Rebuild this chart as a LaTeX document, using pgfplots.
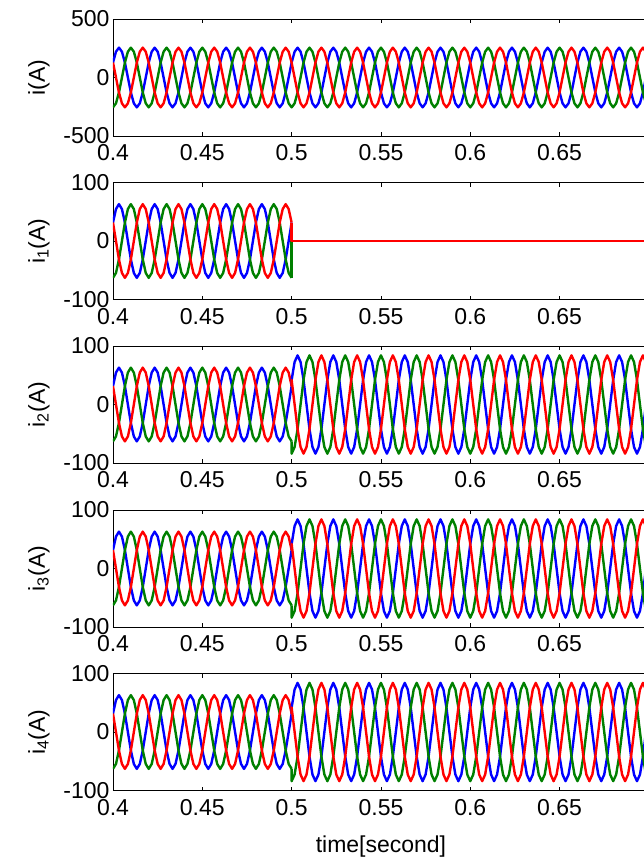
\documentclass[border=0pt]{standalone}
\usepackage{fontspec}
\setmainfont{Liberation Sans}
\usepackage{pgfplots}
\usepackage{pgfplotstable}
\pgfplotsset{compat=1.18}
\definecolor{mblue}{RGB}{0,0,255}
\definecolor{mgreen}{RGB}{0,128,0}
\definecolor{mred}{RGB}{255,0,0}

% total current i (three phases)
\pgfplotstableread{
t B R G
0.4 127.5 127.5 -255
0.401667 220.8 0 -220.8
0.403333 255 -127.5 -127.5
0.405 220.8 -220.8 0
0.406667 127.5 -255 127.5
0.408333 0 -220.8 220.8
0.41 -127.5 -127.5 255
0.411667 -220.8 0 220.8
0.413333 -255 127.5 127.5
0.415 -220.8 220.8 0
0.416667 -127.5 255 -127.5
0.418333 0 220.8 -220.8
0.42 127.5 127.5 -255
0.421667 220.8 0 -220.8
0.423333 255 -127.5 -127.5
0.425 220.8 -220.8 0
0.426667 127.5 -255 127.5
0.428333 0 -220.8 220.8
0.43 -127.5 -127.5 255
0.431667 -220.8 0 220.8
0.433333 -255 127.5 127.5
0.435 -220.8 220.8 0
0.436667 -127.5 255 -127.5
0.438333 0 220.8 -220.8
0.44 127.5 127.5 -255
0.441667 220.8 0 -220.8
0.443333 255 -127.5 -127.5
0.445 220.8 -220.8 0
0.446667 127.5 -255 127.5
0.448333 0 -220.8 220.8
0.45 -127.5 -127.5 255
0.451667 -220.8 0 220.8
0.453333 -255 127.5 127.5
0.455 -220.8 220.8 0
0.456667 -127.5 255 -127.5
0.458333 0 220.8 -220.8
0.46 127.5 127.5 -255
0.461667 220.8 0 -220.8
0.463333 255 -127.5 -127.5
0.465 220.8 -220.8 0
0.466667 127.5 -255 127.5
0.468333 0 -220.8 220.8
0.47 -127.5 -127.5 255
0.471667 -220.8 0 220.8
0.473333 -255 127.5 127.5
0.475 -220.8 220.8 0
0.476667 -127.5 255 -127.5
0.478333 0 220.8 -220.8
0.48 127.5 127.5 -255
0.481667 220.8 0 -220.8
0.483333 255 -127.5 -127.5
0.485 220.8 -220.8 0
0.486667 127.5 -255 127.5
0.488333 0 -220.8 220.8
0.49 -127.5 -127.5 255
0.491667 -220.8 0 220.8
0.493333 -255 127.5 127.5
0.495 -220.8 220.8 0
0.496667 -127.5 255 -127.5
0.498333 0 220.8 -220.8
0.5 127.5 127.5 -255
0.501667 220.8 0 -220.8
0.503333 255 -127.5 -127.5
0.505 220.8 -220.8 0
0.506667 127.5 -255 127.5
0.508333 0 -220.8 220.8
0.51 -127.5 -127.5 255
0.511667 -220.8 0 220.8
0.513333 -255 127.5 127.5
0.515 -220.8 220.8 0
0.516667 -127.5 255 -127.5
0.518333 0 220.8 -220.8
0.52 127.5 127.5 -255
0.521667 220.8 0 -220.8
0.523333 255 -127.5 -127.5
0.525 220.8 -220.8 0
0.526667 127.5 -255 127.5
0.528333 0 -220.8 220.8
0.53 -127.5 -127.5 255
0.531667 -220.8 0 220.8
0.533333 -255 127.5 127.5
0.535 -220.8 220.8 0
0.536667 -127.5 255 -127.5
0.538333 0 220.8 -220.8
0.54 127.5 127.5 -255
0.541667 220.8 0 -220.8
0.543333 255 -127.5 -127.5
0.545 220.8 -220.8 0
0.546667 127.5 -255 127.5
0.548333 0 -220.8 220.8
0.55 -127.5 -127.5 255
0.551667 -220.8 0 220.8
0.553333 -255 127.5 127.5
0.555 -220.8 220.8 0
0.556667 -127.5 255 -127.5
0.558333 0 220.8 -220.8
0.56 127.5 127.5 -255
0.561667 220.8 0 -220.8
0.563333 255 -127.5 -127.5
0.565 220.8 -220.8 0
0.566667 127.5 -255 127.5
0.568333 0 -220.8 220.8
0.57 -127.5 -127.5 255
0.571667 -220.8 0 220.8
0.573333 -255 127.5 127.5
0.575 -220.8 220.8 0
0.576667 -127.5 255 -127.5
0.578333 0 220.8 -220.8
0.58 127.5 127.5 -255
0.581667 220.8 0 -220.8
0.583333 255 -127.5 -127.5
0.585 220.8 -220.8 0
0.586667 127.5 -255 127.5
0.588333 0 -220.8 220.8
0.59 -127.5 -127.5 255
0.591667 -220.8 0 220.8
0.593333 -255 127.5 127.5
0.595 -220.8 220.8 0
0.596667 -127.5 255 -127.5
0.598333 0 220.8 -220.8
0.6 127.5 127.5 -255
0.601667 220.8 0 -220.8
0.603333 255 -127.5 -127.5
0.605 220.8 -220.8 0
0.606667 127.5 -255 127.5
0.608333 0 -220.8 220.8
0.61 -127.5 -127.5 255
0.611667 -220.8 0 220.8
0.613333 -255 127.5 127.5
0.615 -220.8 220.8 0
0.616667 -127.5 255 -127.5
0.618333 0 220.8 -220.8
0.62 127.5 127.5 -255
0.621667 220.8 0 -220.8
0.623333 255 -127.5 -127.5
0.625 220.8 -220.8 0
0.626667 127.5 -255 127.5
0.628333 0 -220.8 220.8
0.63 -127.5 -127.5 255
0.631667 -220.8 0 220.8
0.633333 -255 127.5 127.5
0.635 -220.8 220.8 0
0.636667 -127.5 255 -127.5
0.638333 0 220.8 -220.8
0.64 127.5 127.5 -255
0.641667 220.8 0 -220.8
0.643333 255 -127.5 -127.5
0.645 220.8 -220.8 0
0.646667 127.5 -255 127.5
0.648333 0 -220.8 220.8
0.65 -127.5 -127.5 255
0.651667 -220.8 0 220.8
0.653333 -255 127.5 127.5
0.655 -220.8 220.8 0
0.656667 -127.5 255 -127.5
0.658333 0 220.8 -220.8
0.66 127.5 127.5 -255
0.661667 220.8 0 -220.8
0.663333 255 -127.5 -127.5
0.665 220.8 -220.8 0
0.666667 127.5 -255 127.5
0.668333 0 -220.8 220.8
0.67 -127.5 -127.5 255
0.671667 -220.8 0 220.8
0.673333 -255 127.5 127.5
0.675 -220.8 220.8 0
0.676667 -127.5 255 -127.5
0.678333 0 220.8 -220.8
0.68 127.5 127.5 -255
0.681667 220.8 0 -220.8
0.683333 255 -127.5 -127.5
0.685 220.8 -220.8 0
0.686667 127.5 -255 127.5
0.688333 0 -220.8 220.8
0.69 -127.5 -127.5 255
0.691667 -220.8 0 220.8
0.693333 -255 127.5 127.5
0.695 -220.8 220.8 0
0.696667 -127.5 255 -127.5
0.698333 0 220.8 -220.8
}\toptab

% branch currents before t = 0.5
\pgfplotstableread{
t B R G
0.4 31.5 31.5 -63
0.401667 54.6 0 -54.6
0.403333 63 -31.5 -31.5
0.405 54.6 -54.6 0
0.406667 31.5 -63 31.5
0.408333 0 -54.6 54.6
0.41 -31.5 -31.5 63
0.411667 -54.6 0 54.6
0.413333 -63 31.5 31.5
0.415 -54.6 54.6 0
0.416667 -31.5 63 -31.5
0.418333 0 54.6 -54.6
0.42 31.5 31.5 -63
0.421667 54.6 0 -54.6
0.423333 63 -31.5 -31.5
0.425 54.6 -54.6 0
0.426667 31.5 -63 31.5
0.428333 0 -54.6 54.6
0.43 -31.5 -31.5 63
0.431667 -54.6 0 54.6
0.433333 -63 31.5 31.5
0.435 -54.6 54.6 0
0.436667 -31.5 63 -31.5
0.438333 0 54.6 -54.6
0.44 31.5 31.5 -63
0.441667 54.6 0 -54.6
0.443333 63 -31.5 -31.5
0.445 54.6 -54.6 0
0.446667 31.5 -63 31.5
0.448333 0 -54.6 54.6
0.45 -31.5 -31.5 63
0.451667 -54.6 0 54.6
0.453333 -63 31.5 31.5
0.455 -54.6 54.6 0
0.456667 -31.5 63 -31.5
0.458333 0 54.6 -54.6
0.46 31.5 31.5 -63
0.461667 54.6 0 -54.6
0.463333 63 -31.5 -31.5
0.465 54.6 -54.6 0
0.466667 31.5 -63 31.5
0.468333 0 -54.6 54.6
0.47 -31.5 -31.5 63
0.471667 -54.6 0 54.6
0.473333 -63 31.5 31.5
0.475 -54.6 54.6 0
0.476667 -31.5 63 -31.5
0.478333 0 54.6 -54.6
0.48 31.5 31.5 -63
0.481667 54.6 0 -54.6
0.483333 63 -31.5 -31.5
0.485 54.6 -54.6 0
0.486667 31.5 -63 31.5
0.488333 0 -54.6 54.6
0.49 -31.5 -31.5 63
0.491667 -54.6 0 54.6
0.493333 -63 31.5 31.5
0.495 -54.6 54.6 0
0.496667 -31.5 63 -31.5
0.498333 0 54.6 -54.6
0.5 31.5 31.5 -63
}\pretab

% branch currents after t = 0.5 (i2, i3, i4)
\pgfplotstableread{
t B R G
0.5 31.5 31.5 -63
0.5 42 42 -84
0.501667 72.7 0 -72.7
0.503333 84 -42 -42
0.505 72.7 -72.7 0
0.506667 42 -84 42
0.508333 0 -72.7 72.7
0.51 -42 -42 84
0.511667 -72.7 0 72.7
0.513333 -84 42 42
0.515 -72.7 72.7 0
0.516667 -42 84 -42
0.518333 0 72.7 -72.7
0.52 42 42 -84
0.521667 72.7 0 -72.7
0.523333 84 -42 -42
0.525 72.7 -72.7 0
0.526667 42 -84 42
0.528333 0 -72.7 72.7
0.53 -42 -42 84
0.531667 -72.7 0 72.7
0.533333 -84 42 42
0.535 -72.7 72.7 0
0.536667 -42 84 -42
0.538333 0 72.7 -72.7
0.54 42 42 -84
0.541667 72.7 0 -72.7
0.543333 84 -42 -42
0.545 72.7 -72.7 0
0.546667 42 -84 42
0.548333 0 -72.7 72.7
0.55 -42 -42 84
0.551667 -72.7 0 72.7
0.553333 -84 42 42
0.555 -72.7 72.7 0
0.556667 -42 84 -42
0.558333 0 72.7 -72.7
0.56 42 42 -84
0.561667 72.7 0 -72.7
0.563333 84 -42 -42
0.565 72.7 -72.7 0
0.566667 42 -84 42
0.568333 0 -72.7 72.7
0.57 -42 -42 84
0.571667 -72.7 0 72.7
0.573333 -84 42 42
0.575 -72.7 72.7 0
0.576667 -42 84 -42
0.578333 0 72.7 -72.7
0.58 42 42 -84
0.581667 72.7 0 -72.7
0.583333 84 -42 -42
0.585 72.7 -72.7 0
0.586667 42 -84 42
0.588333 0 -72.7 72.7
0.59 -42 -42 84
0.591667 -72.7 0 72.7
0.593333 -84 42 42
0.595 -72.7 72.7 0
0.596667 -42 84 -42
0.598333 0 72.7 -72.7
0.6 42 42 -84
0.601667 72.7 0 -72.7
0.603333 84 -42 -42
0.605 72.7 -72.7 0
0.606667 42 -84 42
0.608333 0 -72.7 72.7
0.61 -42 -42 84
0.611667 -72.7 0 72.7
0.613333 -84 42 42
0.615 -72.7 72.7 0
0.616667 -42 84 -42
0.618333 0 72.7 -72.7
0.62 42 42 -84
0.621667 72.7 0 -72.7
0.623333 84 -42 -42
0.625 72.7 -72.7 0
0.626667 42 -84 42
0.628333 0 -72.7 72.7
0.63 -42 -42 84
0.631667 -72.7 0 72.7
0.633333 -84 42 42
0.635 -72.7 72.7 0
0.636667 -42 84 -42
0.638333 0 72.7 -72.7
0.64 42 42 -84
0.641667 72.7 0 -72.7
0.643333 84 -42 -42
0.645 72.7 -72.7 0
0.646667 42 -84 42
0.648333 0 -72.7 72.7
0.65 -42 -42 84
0.651667 -72.7 0 72.7
0.653333 -84 42 42
0.655 -72.7 72.7 0
0.656667 -42 84 -42
0.658333 0 72.7 -72.7
0.66 42 42 -84
0.661667 72.7 0 -72.7
0.663333 84 -42 -42
0.665 72.7 -72.7 0
0.666667 42 -84 42
0.668333 0 -72.7 72.7
0.67 -42 -42 84
0.671667 -72.7 0 72.7
0.673333 -84 42 42
0.675 -72.7 72.7 0
0.676667 -42 84 -42
0.678333 0 72.7 -72.7
0.68 42 42 -84
0.681667 72.7 0 -72.7
0.683333 84 -42 -42
0.685 72.7 -72.7 0
0.686667 42 -84 42
0.688333 0 -72.7 72.7
0.69 -42 -42 84
0.691667 -72.7 0 72.7
0.693333 -84 42 42
0.695 -72.7 72.7 0
0.696667 -42 84 -42
0.698333 0 72.7 -72.7
}\posttab

% i1 after t = 0.5 (switched off)
\pgfplotstableread{
t B R G
0.5 31.5 31.5 -63
0.5 0 0 0
0.7 0 0 0
}\offtab

\pgfplotsset{
  panel/.style={
    scale only axis, width=535.9pt, height=117pt,
    anchor=north west,
    xmin=0.4, xmax=0.7,
    xtick={0.4,0.45,0.5,0.55,0.6,0.65},
    xticklabels={0.4,0.45,0.5,0.55,0.6,0.65},
    tick align=inside, tick pos=both,
    major tick length=4pt,
    every tick/.style={black, line width=0.7pt},
    axis line style={black, line width=0.8pt},
    font=\fontsize{23}{27}\selectfont,
    x tick label style={yshift=-5pt},
    ylabel shift=7pt,
    clip=true,
  },
  sty/.style={line width=2.4pt, line join=round},
}

\begin{document}
\begin{tikzpicture}
% total current
\begin{axis}[panel, at={(113pt,-19pt)},
  ymin=-500, ymax=500, ytick={-500,0,500}, yticklabels={-500,0,500},
  ylabel={i(A)}]
\addplot[sty, mblue] table[x=t, y=B] {\toptab};
\addplot[sty, mgreen] table[x=t, y=G] {\toptab};
\addplot[sty, mred] table[x=t, y=R] {\toptab};
\end{axis}
% i1
\begin{axis}[panel, at={(113pt,-182.5pt)},
  ymin=-100, ymax=100, ytick={-100,0,100}, yticklabels={-100,0,100},
  ylabel={i\textsubscript{1}(A)}]
\addplot[sty, mblue] table[x=t, y=B] {\pretab};
\addplot[sty, mgreen] table[x=t, y=G] {\pretab};
\addplot[sty, mred] table[x=t, y=R] {\pretab};
\addplot[sty, mblue] table[x=t, y=B] {\offtab};
\addplot[sty, mgreen] table[x=t, y=G] {\offtab};
\addplot[sty, mred] table[x=t, y=R] {\offtab};
\end{axis}
% i2
\begin{axis}[panel, at={(113pt,-346pt)},
  ymin=-100, ymax=100, ytick={-100,0,100}, yticklabels={-100,0,100},
  ylabel={i\textsubscript{2}(A)}]
\addplot[sty, mblue] table[x=t, y=B] {\pretab};
\addplot[sty, mgreen] table[x=t, y=G] {\pretab};
\addplot[sty, mred] table[x=t, y=R] {\pretab};
\addplot[sty, mblue] table[x=t, y=B] {\posttab};
\addplot[sty, mgreen] table[x=t, y=G] {\posttab};
\addplot[sty, mred] table[x=t, y=R] {\posttab};
\end{axis}
% i3
\begin{axis}[panel, at={(113pt,-510pt)},
  ymin=-100, ymax=100, ytick={-100,0,100}, yticklabels={-100,0,100},
  ylabel={i\textsubscript{3}(A)}]
\addplot[sty, mblue] table[x=t, y=B] {\pretab};
\addplot[sty, mgreen] table[x=t, y=G] {\pretab};
\addplot[sty, mred] table[x=t, y=R] {\pretab};
\addplot[sty, mblue] table[x=t, y=B] {\posttab};
\addplot[sty, mgreen] table[x=t, y=G] {\posttab};
\addplot[sty, mred] table[x=t, y=R] {\posttab};
\end{axis}
% i4
\begin{axis}[panel, at={(113pt,-673.5pt)},
  ymin=-100, ymax=100, ytick={-100,0,100}, yticklabels={-100,0,100},
  ylabel={i\textsubscript{4}(A)},
  xlabel={time[second]}, xlabel style={yshift=-14pt}]
\addplot[sty, mblue] table[x=t, y=B] {\pretab};
\addplot[sty, mgreen] table[x=t, y=G] {\pretab};
\addplot[sty, mred] table[x=t, y=R] {\pretab};
\addplot[sty, mblue] table[x=t, y=B] {\posttab};
\addplot[sty, mgreen] table[x=t, y=G] {\posttab};
\addplot[sty, mred] table[x=t, y=R] {\posttab};
\end{axis}
\pgfresetboundingbox
\path[use as bounding box] (0pt,0pt) rectangle (643pt,-860pt);
\end{tikzpicture}
\end{document}
